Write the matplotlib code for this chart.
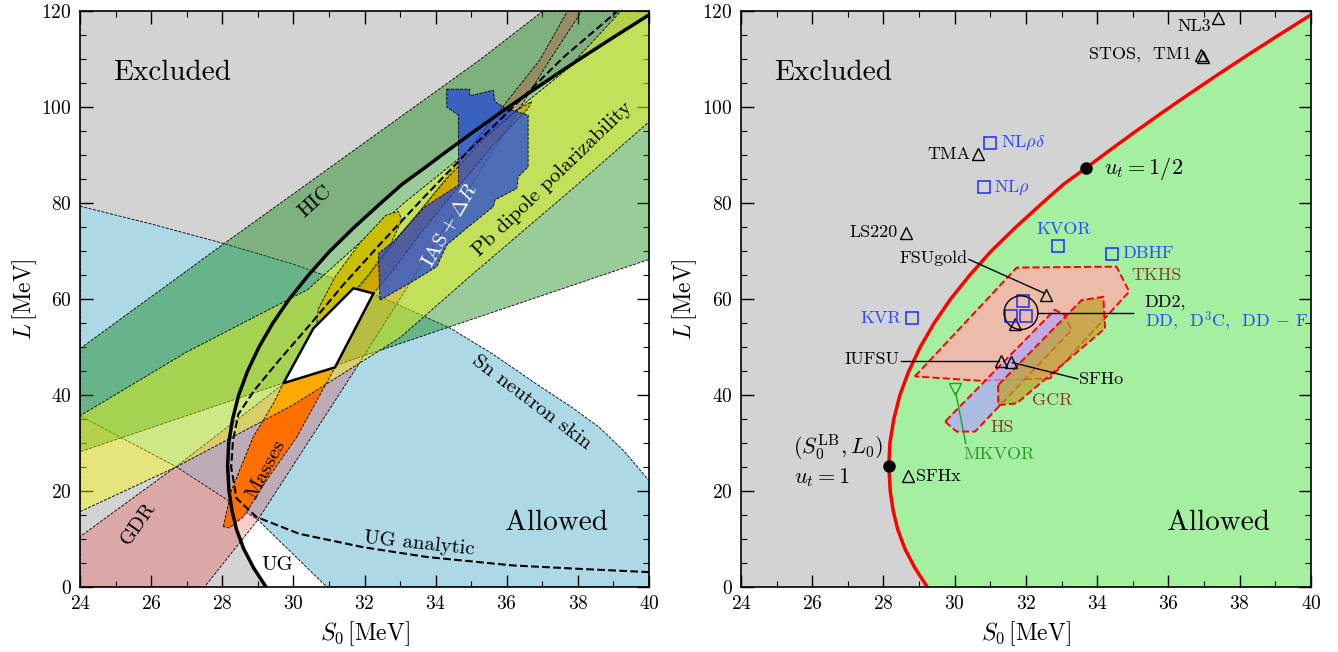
import matplotlib
matplotlib.use('Agg')
import matplotlib.pyplot as plt
from matplotlib.patches import Polygon, Ellipse

plt.rcParams['font.family'] = 'serif'
plt.rcParams['font.serif'] = ['cmr10']
plt.rcParams['mathtext.fontset'] = 'cm'
plt.rcParams['axes.formatter.use_mathtext'] = True
plt.rcParams['axes.unicode_minus'] = False

# ---- data (S0 [MeV], L [MeV]) ----
# unitary gas lower bound
ug_L = [0, 4, 8, 12, 16, 20, 25.2, 30, 35, 40, 45, 50, 55, 60, 65, 70, 75, 80,
        84, 87.4, 91, 95, 99, 103, 107, 111, 115, 119.3]
ug_S = [29.23, 28.88, 28.6, 28.4, 28.27, 28.19, 28.15, 28.18, 28.29, 28.46, 28.71,
        29.03, 29.42, 29.88, 30.42, 31.02, 31.71, 32.45, 33.06, 33.69, 34.34, 35.08,
        35.84, 36.62, 37.42, 38.24, 39.08, 40.0]

# UG analytic (dashed)
uga_S = [40.0, 38.0, 36.16, 33.76, 31.96, 30.16, 28.96, 28.4, 28.25, 28.3, 28.45,
         28.9, 29.6, 30.5, 31.4, 32.5, 33.7, 35.0, 36.3, 37.6, 39.1]
uga_L = [3.1, 3.8, 4.5, 6.25, 8.3, 11.1, 14.6, 18.5, 25, 30.5, 36,
         41, 47.3, 55, 63, 72, 81.5, 91.5, 101, 110.5, 120]

sn_S = [24, 26, 28, 30, 31.7, 33, 34.4, 35.6, 36.8, 37.8, 38.6, 39.3, 40,
        40, 30.94, 29, 26.7, 24]
sn_L = [79.4, 75.7, 71.7, 67.3, 62.8, 58.7, 54, 48.6, 42.5, 37.6, 33.3, 28.3, 22.2,
        0, 0, 14, 25.1, 35.7]

hic_S = [24, 28.05, 35.24, 37.0, 40, 40, 24]
hic_L = [49.7, 71.6, 109.9, 120, 120, 68.3, 28.2]

gdr_S = [24, 24, 26.7, 29.7, 33.3, 36.93, 37.7, 38.1, 37.21, 34.6, 31.97, 29, 27.5]
gdr_L = [0, 10.5, 25.1, 42.2, 76, 109.9, 120, 120, 109.9, 79, 48, 14, 0]

pb_S = [24, 26.72, 30, 33, 35, 38, 40, 40, 39.2, 37.7, 36.2, 34.6, 33.1, 31.6, 30.4, 27, 24]
pb_L = [15.7, 25.1, 38, 52, 65, 84, 97, 120, 120, 108, 99, 89, 80, 70, 62, 49, 35.7]

mass_S = [28.03, 28.26, 28.87, 29.44, 29.72, 30.56, 31.69, 32.6, 33.4, 34.3, 35.3,
          36.3, 36.7, 36.6, 35.6, 34.7, 33.6, 32.9, 32.25, 31.17, 30.1, 29.25, 28.6, 28.2]
mass_L = [12.6, 20.2, 31.3, 38.3, 42.5, 53.9, 62.3, 70, 77, 85, 93,
          99.5, 101.2, 99.8, 92, 84, 74, 67, 61.2, 45.8, 31.3, 22.3, 14.7, 12.3]

yel_S = [30.65, 31.3, 32.1, 32.7, 33.05, 32.95, 32.6, 31.9, 31.2, 30.7]
yel_L = [54.3, 58, 65, 71, 76.5, 78.3, 77.5, 72, 65, 58]

ias_S = [34.31, 34.96, 34.96, 35.62, 35.67, 35.95, 36.6, 36.6, 36.32, 36.28, 35.67,
         35.62, 34.87, 34.31, 34.03, 33.42, 32.43, 32.39, 32.81, 33.7, 34.64, 34.64, 34.31]
ias_L = [103.8, 103.8, 102.4, 103.6, 101.2, 99.8, 98.4, 87.6, 85.5, 83.1, 80.7,
         79.3, 74.8, 71.3, 66.8, 64.0, 59.8, 69.6, 72.0, 79.3, 83.8, 98.4, 100.1]

white_S = [29.72, 31.17, 32.25, 31.69, 30.56]
white_L = [42.5, 45.8, 61.2, 62.3, 53.9]

# right panel models
tri_names = ['NL3', 'STOS, TM1', 'TMA', 'LS220', 'FSUgold', 'SFHx', 'IUFSU', 'SFHo', 'DD2']
tri_S = [37.4, 36.92, 30.66, 28.63, 32.57, 28.68, 31.29, 31.57, 31.69]
tri_L = [118.6, 111.0, 90.3, 73.8, 60.8, 23.1, 47.2, 47.0, 54.9]
sq_names = ['NLrd', 'NLr', 'KVOR', 'DBHF', 'KVR', 'DD', 'D3C', 'DD-F']
sq_S = [30.99, 30.81, 32.91, 34.41, 28.81, 31.92, 31.59, 32.01]
sq_L = [92.5, 83.3, 71.2, 69.5, 56.1, 59.7, 56.5, 56.5]
mkvor_S, mkvor_L = 30.01, 41.3

tkhs_S = [28.88, 31.74, 34.54, 34.9, 32.67, 30.71]
tkhs_L = [43.9, 66.6, 66.8, 61.6, 43.5, 43.0]
hs_S = [29.73, 30.05, 30.57, 33.28, 33.09, 32.81]
hs_L = [34.5, 32.4, 32.4, 53.6, 56.7, 57.8]
gcr_S = [31.22, 31.22, 31.74, 34.22, 34.17, 33.56]
gcr_L = [42.1, 37.9, 38.3, 53.9, 60.5, 59.8]

pt_lb = (28.16, 25.2)
pt_half = (33.69, 87.3)

GRAY = '#d3d3d3'


def poly(ax, S, L, fc, alpha=1.0, ec='k', ls='--', lw=0.6, z=1):
    p = Polygon(list(zip(S, L)), closed=True, ec=ec, ls=ls, lw=lw, zorder=z)
    p.set_facecolor(matplotlib.colors.to_rgba(fc, alpha))
    ax.add_patch(p)
    return p


def excluded_region():
    S = ug_S + [40, 24, 24]
    L = ug_L + [120, 120, 0]
    return S, L


def style_axes(ax):
    ax.set_xlim(24, 40)
    ax.set_ylim(0, 120)
    ax.set_xticks(range(24, 41, 2))
    ax.set_xticks(range(24, 41, 1), minor=True)
    ax.set_yticks(range(0, 121, 20))
    ax.set_yticks(range(0, 121, 5), minor=True)
    ax.tick_params(which='both', direction='in', top=True, right=True, labelsize=14, pad=6)
    ax.tick_params(which='major', length=9, width=1.0)
    ax.tick_params(which='minor', length=4, width=0.8)
    for sp in ax.spines.values():
        sp.set_linewidth(1.2)
        sp.set_zorder(20)
    ax.set_xlabel(r'$S_0\,[\mathrm{MeV}]$', fontsize=17, labelpad=4)
    ax.set_ylabel(r'$L\,[\mathrm{MeV}]$', fontsize=17, labelpad=2)


fig = plt.figure(figsize=(13.38, 6.52), dpi=100)
ax1 = fig.add_axes([0.0598, 0.0997, 0.4253, 0.8827])
ax2 = fig.add_axes([0.5538, 0.0997, 0.4260, 0.8827])

# ---------------- left panel ----------------
exS, exL = excluded_region()
poly(ax1, exS, exL, GRAY, ec='none', z=0)
poly(ax1, sn_S, sn_L, '#add8e6', z=1)
poly(ax1, mass_S, mass_L, '#ff8c00', ec='none', z=2)
poly(ax1, hic_S, hic_L, (0, 0.5, 0), alpha=0.4, z=3)
poly(ax1, gdr_S, gdr_L, (1, 0, 0), alpha=0.2, z=4)
poly(ax1, pb_S, pb_L, (1, 1, 0), alpha=0.41, z=5)
poly(ax1, mass_S, mass_L, 'none', ls='--', z=5.5)
poly(ax1, yel_S, yel_L, '#c9be00', z=6)
poly(ax1, ias_S, ias_L, (0.12, 0.26, 0.86), alpha=0.72, z=7)
poly(ax1, white_S, white_L, 'white', ls='-', lw=1.8, z=8)
ax1.plot(uga_S, uga_L, color='k', ls='--', lw=1.5, zorder=9)
ax1.plot(ug_S, ug_L, color='k', lw=2.5, zorder=10)

tk = dict(zorder=12, ha='center', va='center')
ax1.text(26.6, 107.2, 'Excluded', fontsize=21, **tk)
ax1.text(37.4, 13.3, 'Allowed', fontsize=21, **tk)
ax1.text(30.6, 80.3, 'HIC', fontsize=15, rotation=42, **tk)
ax1.text(34.4, 75.5, r'$\mathrm{IAS}+\Delta R$', fontsize=15, rotation=60, color='white', **tk)
ax1.text(37.3, 85, 'Pb dipole polarizability', fontsize=15, rotation=44, **tk)
ax1.text(36.7, 38.5, 'Sn neutron skin', fontsize=15, rotation=-37, **tk)
ax1.text(33.55, 9.0, 'UG analytic', fontsize=15, rotation=-6, **tk)
ax1.text(29.55, 4.6, 'UG', fontsize=15, **tk)
ax1.text(25.63, 13.3, 'GDR', fontsize=15, rotation=55, **tk)
ax1.text(29.22, 24.6, 'Masses', fontsize=15, rotation=62, **tk)
style_axes(ax1)

# ---------------- right panel ----------------
poly(ax2, exS, exL, GRAY, ec='none', z=0)
ax2.set_facecolor('#a4f0a0')
ax2.plot(ug_S, ug_L, color='red', lw=2.5, zorder=10)
poly(ax2, tkhs_S, tkhs_L, '#ecbba9', ec='red', ls='--', lw=1.4, z=2)
poly(ax2, hs_S, hs_L, (0.68, 0.65, 1.0), alpha=0.7, ec='red', ls='--', lw=1.4, z=3)
poly(ax2, gcr_S, gcr_L, (0.74, 0.63, 0.16), alpha=0.7, ec='red', ls='--', lw=1.4, z=4)

ax2.plot(tri_S, tri_L, ls='none', marker='^', ms=8, mfc='none', mec='k', mew=1.0, zorder=12)
ax2.plot([36.97], [110.6], ls='none', marker='^', ms=8, mfc='none', mec='k', mew=1.0, zorder=12)
ax2.plot(sq_S, sq_L, ls='none', marker='s', ms=8, mfc='none', mec='#1a2cff', mew=1.1, zorder=12)
ax2.plot([mkvor_S], [mkvor_L], ls='none', marker='v', ms=8, mfc='none', mec='#2a9a2a', mew=1.0, zorder=12)
ax2.plot(*zip(pt_lb, pt_half), ls='none', marker='o', ms=8, color='k', zorder=13)
ax2.add_patch(Ellipse((31.86, 57.2), 0.95, 7.0, fc='none', ec='k', lw=1.0, zorder=12))

# connector lines
ax2.plot([30.4, 32.5], [68.3, 61.3], color='k', lw=1.0, zorder=11)
ax2.plot([32.33, 35.0], [57.2, 57.2], color='k', lw=1.0, zorder=11)
ax2.plot([28.5, 31.25], [47.2, 47.2], color='k', lw=1.0, zorder=11)
ax2.plot([31.62, 33.45], [46.8, 43.4], color='k', lw=1.0, zorder=11)
ax2.plot([30.03, 30.31], [40.5, 29.9], color='#2a9a2a', lw=1.0, zorder=11)

BLUE = '#2a4bff'
BROWN = '#8c3a2c'
GREEN = '#2a9a2a'
ax2.text(26.6, 107.2, 'Excluded', fontsize=21, **tk)
ax2.text(37.4, 13.3, 'Allowed', fontsize=21, **tk)
ax2.text(37.2, 116.8, 'NL3', fontsize=13, ha='right', va='center', zorder=12)
ax2.text(36.65, 111.0, 'STOS,  TM1', fontsize=13, ha='right', va='center', zorder=12)
ax2.text(30.45, 90.3, 'TMA', fontsize=13, ha='right', va='center', zorder=12)
ax2.text(31.3, 92.6, r'NL$\rho\delta$', fontsize=13, ha='left', va='center', color=BLUE, zorder=12)
ax2.text(31.1, 83.3, r'NL$\rho$', fontsize=13, ha='left', va='center', color=BLUE, zorder=12)
ax2.text(28.4, 73.9, 'LS220', fontsize=13, ha='right', va='center', zorder=12)
ax2.text(33.05, 74.5, 'KVOR', fontsize=13, ha='center', va='center', color=BLUE, zorder=12)
ax2.text(34.7, 69.6, 'DBHF', fontsize=13, ha='left', va='center', color=BLUE, zorder=12)
ax2.text(35.66, 64.9, 'TKHS', fontsize=13, ha='center', va='center', color=BROWN, zorder=12)
ax2.text(30.35, 68.6, 'FSUgold', fontsize=13, ha='right', va='center', zorder=12)
ax2.text(35.33, 59.4, 'DD2,', fontsize=13, ha='left', va='center', zorder=12)
ax2.text(35.33, 55.3, r'DD,  D$^3$C,  DD $-$ F', fontsize=13, ha='left', va='center', color=BLUE, zorder=12)
ax2.text(28.5, 56.1, 'KVR', fontsize=13, ha='right', va='center', color=BLUE, zorder=12)
ax2.text(28.45, 47.4, 'IUFSU', fontsize=13, ha='right', va='center', zorder=12)
ax2.text(33.5, 43.2, 'SFHo', fontsize=13, ha='left', va='center', zorder=12)
ax2.text(32.73, 38.9, 'GCR', fontsize=13, ha='center', va='center', color=BROWN, zorder=12)
ax2.text(31.33, 33.3, 'HS', fontsize=13, ha='center', va='center', color=BROWN, zorder=12)
ax2.text(31.23, 27.6, 'MKVOR', fontsize=13, ha='center', va='center', color=GREEN, zorder=12)
ax2.text(28.9, 23.1, 'SFHx', fontsize=13, ha='left', va='center', zorder=12)
ax2.text(25.45, 29.0, r'$(S_0^{\rm LB}, L_0)$', fontsize=16, ha='left', va='center', zorder=12)
ax2.text(25.5, 22.9, r'$u_t = 1$', fontsize=16, ha='left', va='center', zorder=12)
ax2.text(34.2, 87.2, r'$u_t = 1/2$', fontsize=16, ha='left', va='center', zorder=12)
style_axes(ax2)

fig.savefig('out.png', dpi=100)
